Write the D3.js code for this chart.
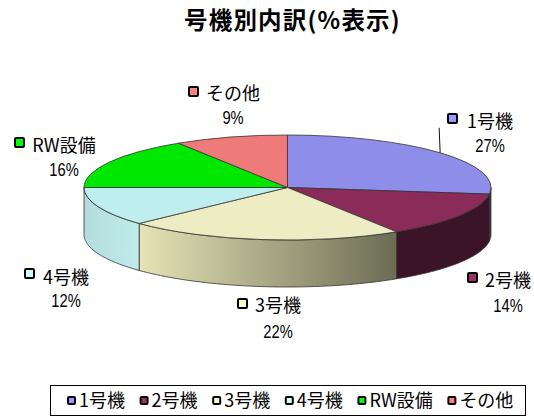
<!DOCTYPE html>
<html>
<head>
<meta charset="utf-8">
<script src="https://cdn.jsdelivr.net/npm/d3@7"></script>
<style>
html, body { margin: 0; padding: 0; background: #fff; }
text { font-family: "Noto Sans CJK JP", sans-serif; fill: #000; }
.num { font-family: "Liberation Sans", sans-serif; }
</style>
</head>
<body>
<div id="chart-container"></div>
<script>
var title = "号機別内訳(%表示)";
var categories = ["1号機", "2号機", "3号機", "4号機", "RW設備", "その他"];
var values = [27, 14, 22, 12, 16, 9];

var top_colors = ["#8e8eea", "#8a2b5a", "#eeecc2", "#bfeeee", "#00e800", "#ee7a7a"];
var key_colors = ["#9999ff", "#993366", "#ffffcc", "#ccffff", "#00ff00", "#ff8080"];
var wall_left = ["#3a3a70", "#3c1428", "#e6e3b6", "#b4dcdc", "#00a000", "#904848"];
var wall_right = ["#3a3a70", "#3a1426", "#6c6c54", "#c0ecec", "#00a000", "#904848"];

// label anchors, same order as categories
var label_x = [490, 508, 278, 66, 64, 233];
var label_y = [128, 287, 312, 284, 152, 100];
var pct_y = [152, 312, 338, 307, 176, 124];
var key_x = [448, 468, 238, 25, 15, 189];
var key_y = [114, 273, 299, 269, 138, 87];

var svg_width = 534;
var svg_height = 417;
var center_x = 287.5;
var center_y = 187.5;
var radius_x = 203.5;
var radius_y = 52.5;
var depth = 47;

var svg = d3.select("#chart-container")
	.append("svg")
	.attr("width", svg_width)
	.attr("height", svg_height)
	.style("display", "block");

var pie = d3.pie().sort(null).value(d => d);
var slices = pie(values);

function px(a) { return center_x + radius_x * Math.sin(a); }
function py(a) { return center_y - radius_y * Math.cos(a); }

var defs = svg.append("defs");
slices.forEach(function(d, i) {
	// stretch the slice's own colours across the part of the wall it shows
	var a0 = Math.max(d.startAngle, Math.PI / 2);
	var a1 = Math.min(d.endAngle, Math.PI * 3 / 2);
	var g = defs.append("linearGradient")
		.attr("id", "wall-" + i)
		.attr("gradientUnits", "userSpaceOnUse")
		.attr("x1", px(a1)).attr("x2", px(a0))
		.attr("y1", 0).attr("y2", 0);
	g.append("stop").attr("offset", 0).attr("stop-color", wall_left[i]);
	g.append("stop").attr("offset", 1).attr("stop-color", wall_right[i]);
});

// side walls, only the front half of the rim shows
slices.forEach(function(d, i) {
	var a0 = Math.max(d.startAngle, Math.PI / 2);
	var a1 = Math.min(d.endAngle, Math.PI * 3 / 2);
	if (a1 <= a0) return;
	var p = d3.path();
	p.moveTo(px(a0), py(a0));
	var n = 48;
	for (var k = 1; k <= n; k++) {
		var a = a0 + (a1 - a0) * k / n;
		p.lineTo(px(a), py(a));
	}
	for (var k = n; k >= 0; k--) {
		var a = a0 + (a1 - a0) * k / n;
		p.lineTo(px(a), py(a) + depth);
	}
	p.closePath();
	svg.append("path")
		.attr("d", p.toString())
		.attr("fill", "url(#wall-" + i + ")")
		.attr("stroke", "#333")
		.attr("stroke-width", 0.8);
});

// top face
var arc = d3.arc().innerRadius(0).outerRadius(radius_x);
svg.append("g")
	.attr("transform", "translate(" + center_x + "," + center_y + ") scale(1," + (radius_y / radius_x) + ")")
	.selectAll("path")
	.data(slices)
	.enter()
	.append("path")
	.attr("d", arc)
	.attr("fill", (d, i) => top_colors[i])
	.attr("stroke", "#333")
	.attr("stroke-width", 0.8)
	.attr("vector-effect", "non-scaling-stroke");

// leader line for the first slice
var leader_angle = (slices[0].startAngle + slices[0].endAngle) / 2;
svg.append("line")
	.attr("x1", px(leader_angle)).attr("y1", py(leader_angle))
	.attr("x2", px(leader_angle) - 1).attr("y2", py(leader_angle) - 25)
	.attr("stroke", "#111").attr("stroke-width", 1);

function key(g, x, y, size, i) {
	g.append("rect")
		.attr("x", x).attr("y", y)
		.attr("width", size).attr("height", size)
		.attr("rx", 1)
		.attr("fill", key_colors[i])
		.attr("stroke", "#000")
		.attr("stroke-width", 2);
}

// data labels
categories.forEach(function(c, i) {
	key(svg, key_x[i], key_y[i], 9, i);
	svg.append("text")
		.attr("x", label_x[i]).attr("y", label_y[i])
		.attr("text-anchor", "middle")
		.attr("font-size", 18)
		.text(c);
	var t = svg.append("text")
		.attr("class", "num")
		.attr("x", label_x[i]).attr("y", pct_y[i])
		.attr("text-anchor", "middle")
		.attr("font-size", 17.5)
		.text(values[i] + "%");
	// percent labels are condensed in the reference
	t.attr("textLength", t.node().getComputedTextLength() * 0.84)
		.attr("lengthAdjust", "spacingAndGlyphs");
});

// title
svg.append("text")
	.attr("x", 184).attr("y", 29)
	.attr("font-size", 23.5)
	.attr("letter-spacing", 1.2)
	.attr("font-weight", "bold")
	.text(title);

// legend box, entries flow left to right by text width
var legend = svg.append("g");
legend.append("rect")
	.attr("x", 50.5).attr("y", 385.5)
	.attr("width", 475).attr("height", 30)
	.attr("fill", "#fff")
	.attr("stroke", "#000")
	.attr("stroke-width", 1);

var x = 67;
categories.forEach(function(c, i) {
	key(legend, x + 1, 397, 7, i);
	var t = legend.append("text")
		.attr("x", x + 12).attr("y", 407)
		.attr("font-size", 18)
		.text(c);
	x += 12 + t.node().getComputedTextLength() + 14.6;
});
</script>
</body>
</html>
